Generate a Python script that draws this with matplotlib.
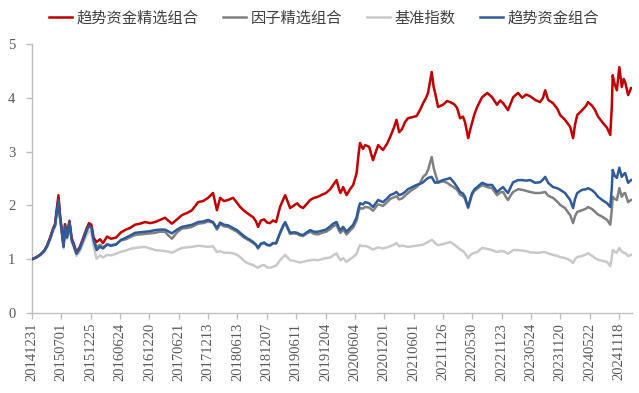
import numpy as np
import matplotlib.pyplot as plt
from matplotlib.ticker import FixedLocator

days = [0, 16, 33, 49, 61, 74, 86, 94, 102, 108, 114, 123, 129, 135, 143, 153, 162, 170, 182, 196,
        209, 223, 233, 243, 251, 264, 278, 290, 307, 323, 343, 364, 384, 401, 421, 442, 462, 483, 503, 523,
        544, 556, 572, 593, 613, 634, 654, 679, 699, 720, 740, 756, 769, 785, 801, 822, 838, 851, 867, 879,
        891, 904, 916, 924, 936, 949, 961, 973, 985, 998, 1014, 1026, 1035, 1047, 1055, 1071, 1084, 1096, 1108, 1124,
        1137, 1153, 1169, 1186, 1202, 1219, 1231, 1245, 1255, 1261, 1272, 1286, 1300, 1313, 1327, 1335, 1341, 1353, 1362, 1378,
        1394, 1415, 1435, 1452, 1464, 1480, 1490, 1501, 1513, 1525, 1537, 1554, 1572, 1587, 1599, 1611, 1619, 1634, 1642, 1648,
        1660, 1680, 1697, 1709, 1726, 1738, 1750, 1762, 1770, 1779, 1783, 1791, 1799, 1809, 1820, 1840, 1861, 1881, 1901, 1914,
        1926, 1938, 1946, 1959, 1967, 1987, 2004, 2020, 2036, 2057, 2077, 2089, 2098, 2110, 2130, 2147, 2159, 2179, 2200, 2212,
        2220, 2229, 2249, 2265, 2273, 2290, 2302, 2314, 2331, 2351, 2364, 2370, 2374, 2382, 2391, 2401, 2411, 2419, 2425, 2437,
        2449]

trend_select = [1.00, 1.03, 1.08, 1.15, 1.25, 1.40, 1.57, 1.65, 1.95, 2.19, 1.85, 1.50, 1.25, 1.65, 1.42, 1.70, 1.38, 1.28, 1.12, 1.22,
                1.38, 1.55, 1.67, 1.62, 1.40, 1.32, 1.37, 1.30, 1.42, 1.38, 1.40, 1.50, 1.55, 1.58, 1.64, 1.66, 1.69, 1.67, 1.69, 1.73,
                1.77, 1.72, 1.66, 1.74, 1.82, 1.86, 1.91, 2.06, 2.08, 2.14, 2.23, 1.91, 2.14, 2.08, 2.10, 2.14, 2.05, 1.97, 1.90, 1.86,
                1.82, 1.78, 1.70, 1.60, 1.72, 1.74, 1.68, 1.67, 1.72, 1.69, 1.97, 2.10, 2.19, 2.05, 1.95, 2.00, 2.04, 1.98, 1.95, 2.03,
                2.10, 2.14, 2.16, 2.20, 2.23, 2.30, 2.38, 2.47, 2.30, 2.23, 2.34, 2.19, 2.30, 2.38, 2.60, 2.95, 3.16, 3.05, 3.12, 3.09,
                2.84, 3.12, 3.03, 3.15, 3.27, 3.45, 3.59, 3.36, 3.42, 3.55, 3.62, 3.64, 3.66, 3.78, 3.90, 4.00, 4.09, 4.48, 4.20, 4.09,
                3.83, 3.87, 3.94, 3.92, 3.88, 3.81, 3.62, 3.65, 3.55, 3.35, 3.25, 3.40, 3.53, 3.70, 3.83, 4.01, 4.09, 4.01, 3.87, 3.95,
                3.90, 3.82, 3.77, 3.92, 4.01, 4.09, 4.00, 4.06, 4.03, 3.96, 3.92, 4.00, 4.14, 3.96, 3.90, 3.80, 3.68, 3.59, 3.46, 3.25,
                3.50, 3.68, 3.77, 3.85, 3.92, 3.85, 3.77, 3.65, 3.55, 3.44, 3.31, 3.80, 4.42, 4.25, 4.14, 4.57, 4.20, 4.35, 4.29, 4.05,
                4.18]

factor_select = [1.00, 1.03, 1.08, 1.15, 1.24, 1.39, 1.56, 1.63, 1.92, 2.12, 1.82, 1.48, 1.24, 1.64, 1.45, 1.72, 1.40, 1.30, 1.13, 1.24,
                 1.40, 1.58, 1.66, 1.65, 1.42, 1.22, 1.27, 1.22, 1.28, 1.26, 1.28, 1.35, 1.37, 1.41, 1.45, 1.46, 1.47, 1.48, 1.49, 1.51,
                 1.51, 1.45, 1.38, 1.50, 1.57, 1.58, 1.60, 1.66, 1.67, 1.70, 1.68, 1.55, 1.65, 1.61, 1.60, 1.55, 1.51, 1.46, 1.40, 1.37,
                 1.34, 1.30, 1.26, 1.20, 1.28, 1.30, 1.26, 1.25, 1.29, 1.29, 1.48, 1.60, 1.67, 1.55, 1.47, 1.48, 1.47, 1.44, 1.43, 1.48,
                 1.51, 1.47, 1.46, 1.49, 1.51, 1.56, 1.61, 1.64, 1.53, 1.49, 1.55, 1.46, 1.53, 1.59, 1.72, 1.88, 1.95, 1.94, 1.97, 1.96,
                 1.90, 2.02, 1.99, 2.06, 2.12, 2.15, 2.17, 2.11, 2.13, 2.18, 2.23, 2.29, 2.34, 2.42, 2.53, 2.58, 2.66, 2.90, 2.70, 2.60,
                 2.42, 2.45, 2.42, 2.38, 2.33, 2.29, 2.20, 2.17, 2.12, 2.00, 1.95, 2.08, 2.20, 2.27, 2.31, 2.38, 2.34, 2.32, 2.19, 2.24,
                 2.25, 2.15, 2.10, 2.20, 2.25, 2.30, 2.29, 2.27, 2.25, 2.23, 2.23, 2.24, 2.25, 2.18, 2.14, 2.07, 2.01, 1.95, 1.82, 1.67,
                 1.80, 1.88, 1.91, 1.94, 1.97, 1.93, 1.88, 1.83, 1.79, 1.73, 1.64, 1.90, 2.16, 2.12, 2.10, 2.32, 2.16, 2.22, 2.23, 2.06,
                 2.10]

benchmark = [1.00, 1.03, 1.07, 1.14, 1.22, 1.36, 1.52, 1.60, 1.85, 2.05, 1.75, 1.42, 1.20, 1.55, 1.38, 1.62, 1.32, 1.22, 1.06, 1.15,
             1.30, 1.45, 1.52, 1.50, 1.25, 1.01, 1.07, 1.03, 1.08, 1.07, 1.10, 1.14, 1.16, 1.19, 1.21, 1.22, 1.23, 1.20, 1.17, 1.16,
             1.15, 1.14, 1.12, 1.17, 1.21, 1.22, 1.23, 1.25, 1.24, 1.23, 1.24, 1.13, 1.15, 1.12, 1.12, 1.11, 1.08, 1.04, 0.97, 0.93,
             0.91, 0.89, 0.86, 0.84, 0.88, 0.89, 0.85, 0.84, 0.86, 0.88, 0.98, 1.04, 1.08, 1.02, 0.98, 0.97, 0.95, 0.94, 0.95, 0.97,
             0.98, 0.99, 0.98, 1.00, 1.02, 1.03, 1.07, 1.11, 1.02, 0.98, 1.02, 0.95, 1.00, 1.04, 1.10, 1.20, 1.26, 1.24, 1.25, 1.22,
             1.18, 1.22, 1.20, 1.22, 1.24, 1.27, 1.30, 1.24, 1.25, 1.24, 1.23, 1.24, 1.25, 1.26, 1.27, 1.30, 1.32, 1.36, 1.33, 1.30,
             1.26, 1.28, 1.30, 1.32, 1.27, 1.23, 1.18, 1.15, 1.11, 1.05, 1.02, 1.07, 1.10, 1.12, 1.13, 1.21, 1.19, 1.17, 1.13, 1.15,
             1.15, 1.12, 1.10, 1.14, 1.17, 1.17, 1.16, 1.15, 1.13, 1.12, 1.12, 1.13, 1.13, 1.11, 1.08, 1.06, 1.04, 1.02, 0.98, 0.93,
             1.00, 1.04, 1.06, 1.09, 1.11, 1.06, 1.02, 0.99, 0.97, 0.95, 0.87, 1.02, 1.17, 1.14, 1.12, 1.21, 1.14, 1.12, 1.11, 1.06,
             1.08]

trend_fund = [1.00, 1.03, 1.08, 1.15, 1.23, 1.38, 1.55, 1.62, 1.90, 2.10, 1.80, 1.47, 1.23, 1.62, 1.40, 1.68, 1.36, 1.26, 1.10, 1.20,
              1.35, 1.52, 1.62, 1.58, 1.36, 1.17, 1.23, 1.20, 1.27, 1.25, 1.27, 1.36, 1.40, 1.44, 1.49, 1.50, 1.51, 1.52, 1.54, 1.55,
              1.55, 1.52, 1.48, 1.55, 1.60, 1.62, 1.64, 1.69, 1.70, 1.73, 1.69, 1.58, 1.68, 1.64, 1.63, 1.58, 1.54, 1.49, 1.43, 1.39,
              1.36, 1.32, 1.27, 1.21, 1.29, 1.31, 1.27, 1.26, 1.30, 1.30, 1.49, 1.62, 1.69, 1.57, 1.49, 1.50, 1.49, 1.46, 1.45, 1.50,
              1.54, 1.51, 1.51, 1.53, 1.55, 1.61, 1.66, 1.69, 1.58, 1.54, 1.60, 1.51, 1.58, 1.64, 1.78, 1.95, 2.04, 2.02, 2.06, 2.04,
              1.97, 2.10, 2.06, 2.13, 2.19, 2.22, 2.25, 2.19, 2.21, 2.25, 2.30, 2.34, 2.38, 2.40, 2.43, 2.48, 2.51, 2.53, 2.46, 2.42,
              2.43, 2.47, 2.49, 2.51, 2.42, 2.34, 2.25, 2.22, 2.16, 2.02, 1.97, 2.10, 2.23, 2.30, 2.34, 2.42, 2.38, 2.38, 2.25, 2.30,
              2.34, 2.27, 2.23, 2.36, 2.43, 2.47, 2.47, 2.46, 2.47, 2.42, 2.43, 2.48, 2.53, 2.42, 2.34, 2.32, 2.29, 2.23, 2.10, 1.95,
              2.12, 2.23, 2.29, 2.30, 2.32, 2.28, 2.23, 2.16, 2.10, 2.04, 1.97, 2.30, 2.66, 2.55, 2.51, 2.70, 2.53, 2.58, 2.60, 2.42,
              2.47]

tick_labels = ['20141231', '20150701', '20151225', '20160624', '20161220', '20170621', '20171213',
               '20180613', '20181207', '20190611', '20191204', '20200604', '20201201', '20210601',
               '20211126', '20220530', '20221123', '20230524', '20231120', '20240522', '20241118']
tick_days = [0, 120, 240, 360, 480, 600, 720, 840, 960, 1080, 1200, 1320, 1440, 1560,
             1680, 1800, 1920, 2040, 2160, 2280, 2400]

fig = plt.figure(figsize=(6.39, 3.93), dpi=100)
ax = fig.add_axes([0.0501, 0.2036, 0.9390, 0.6845])

lw = 1.8
ax.plot(days, benchmark, color='#C9C9C9', lw=lw, label='基准指数', zorder=2)
ax.plot(days, factor_select, color='#808080', lw=lw, label='因子精选组合', zorder=3)
ax.plot(days, trend_select, color='#C00000', lw=lw, label='趋势资金精选组合', zorder=4)
ax.plot(days, trend_fund, color='#2F5B9A', lw=lw, label='趋势资金组合', zorder=5)

ax.set_xlim(0, 2453)
ax.set_ylim(0, 5)
ax.xaxis.set_major_locator(FixedLocator(tick_days))
ax.set_xticklabels(tick_labels, rotation=90, fontfamily='Liberation Serif', fontsize=10.5, color='#595959')
ax.set_yticks(range(6))
ax.set_yticklabels([str(v) for v in range(6)], fontfamily='Liberation Serif', fontsize=10.5, color='#595959')

for side in ['top', 'right']:
    ax.spines[side].set_visible(False)
for side in ['left', 'bottom']:
    ax.spines[side].set_color('#BFBFBF')
    ax.spines[side].set_linewidth(1.0)
ax.tick_params(axis='both', colors='#BFBFBF', length=4, width=1.0, labelcolor='#595959')
ax.tick_params(axis='x', pad=3)
ax.tick_params(axis='y', pad=8)

handles, labels = ax.get_legend_handles_labels()
order = [2, 1, 0, 3]
fig.legend([handles[i] for i in order], [labels[i] for i in order],
           loc='center', bbox_to_anchor=(0.507, 0.954), ncol=4, frameon=False,
           prop={'family': 'Noto Sans CJK SC', 'size': 11},
           handlelength=1.5, handletextpad=0.3, columnspacing=1.6, labelcolor='#404040')

fig.savefig('out.png', dpi=100)
